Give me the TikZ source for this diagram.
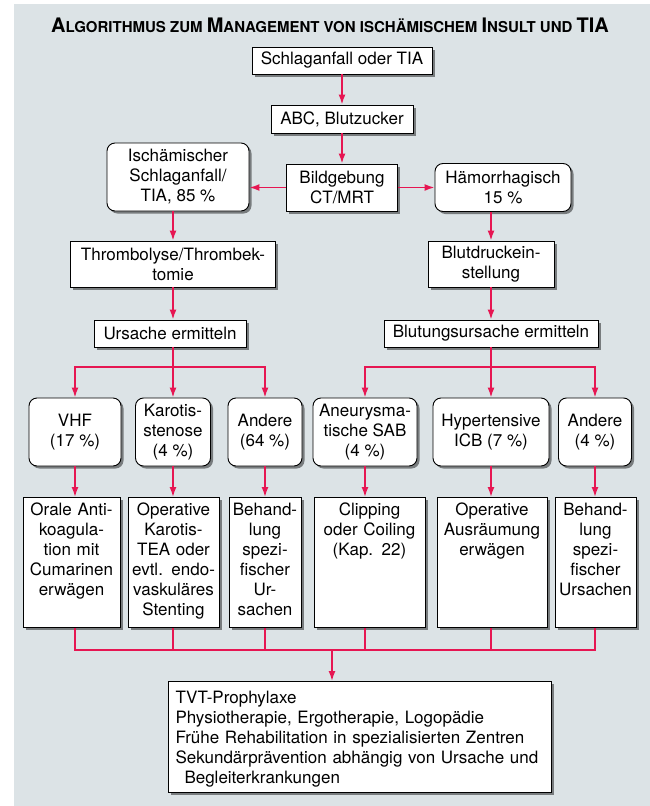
\documentclass[tikz,border=0pt]{standalone}
\usepackage{fontspec}
\setmainfont{TeX Gyre Heros}
\usetikzlibrary{arrows.meta,shadows}
\definecolor{panel}{RGB}{220,227,230}
\definecolor{arr}{RGB}{230,22,82}
\newcommand\bigc[1]{{\fontsize{20}{24}\selectfont #1}}
\begin{document}
\begin{tikzpicture}[x=1pt, y=-1pt, >={Latex[length=10pt,width=7pt]},
    every node/.style={font=\fontsize{17}{20}\selectfont, inner sep=2pt},
    box/.style={draw, line width=.9pt, fill=white, align=center,
      drop shadow={shadow xshift=2.5pt, shadow yshift=-2.5pt, fill=black, opacity=.45}},
    rbox/.style={box, rounded corners=8pt},
    lbox/.style={box, anchor=north, text width=#1, inner ysep=4pt, text height=14pt, text depth=108pt},
    con/.style={draw=arr, line width=1.6pt}]
\useasboundingbox (0,0) rectangle (650,806);
\fill[panel] (14,4) rectangle (650,806);
\node[font=\bfseries\fontsize{15}{18}\selectfont, anchor=base] (titel) at (330,32.5)
   {\bigc{A}LGORITHMUS ZUM \bigc{M}ANAGEMENT VON ISCHÄMISCHEM \bigc{I}NSULT UND \bigc{TIA}};
\node[box, minimum width=180, minimum height=27] (anfall) at (342,60.5) {Schlaganfall oder TIA};
\node[box, minimum width=142, minimum height=28] (abc) at (342,119) {ABC, Blutzucker};
\node[box, minimum width=111, minimum height=47] (bild) at (342,187.5) {Bildgebung\\CT/MRT};
\node[rbox, minimum width=142, minimum height=68] (isch) at (178,177) {Ischämischer\\Schlaganfall/\\TIA, 85~\%};
\node[rbox, minimum width=136, minimum height=48] (haem) at (503,187.5) {Hämorrhagisch\\15~\%};
\node[box, minimum width=205, minimum height=46] (thromb) at (173,264) {Thrombolyse/Thrombek-\\tomie};
\node[box, minimum width=126, minimum height=46] (blutdr) at (491,264) {Blutdruckein-\\stellung};
\node[box, minimum width=152, minimum height=27] (urs) at (170,333.5) {Ursache ermitteln};
\node[box, minimum width=214, minimum height=27] (blurs) at (491,333.5) {Blutungsursache ermitteln};

\node[rbox, minimum width=92, minimum height=68] (vhf) at (75,432) {VHF\\(17~\%)};
\node[rbox, minimum width=75, minimum height=68] (karotis) at (173,432) {Karotis-\\stenose\\(4~\%)};
\node[rbox, minimum width=74, minimum height=68] (andere1) at (265,432) {Andere\\(64~\%)};
\node[rbox, minimum width=104, minimum height=68] (aneur) at (365,432) {Aneurysma-\\tische SAB\\(4~\%)};
\node[rbox, minimum width=116, minimum height=68] (hyper) at (491,432) {Hypertensive\\ICB (7~\%)};
\node[rbox, minimum width=73, minimum height=68] (andere2) at (595,432) {Andere\\(4~\%)};

\node[lbox=93] (orale) at (71.5,497) {Orale Anti-\\koagula-\\tion mit\\Cumarinen\\erwägen};
\node[lbox=87] (opkar) at (173.5,497) {Operative\\Karotis-\\TEA oder\\evtl. endo-\\vaskuläres\\Stenting};
\node[lbox=68] (behand1) at (265,497) {Behand-\\lung\\spezi-\\fischer\\Ur-\\sachen};
\node[lbox=107] (clip) at (369.5,497) {Clipping\\oder Coiling\\(Kap. 22)};
\node[lbox=106] (opaus) at (492,497) {Operative\\Ausräumung\\erwägen};
\node[lbox=77] (behand2) at (595.5,497) {Behand-\\lung\\spezi-\\fischer\\Ursachen};

\node[box, anchor=north, align=left, text width=368, inner xsep=7.5pt, inner ysep=4pt, text height=18pt, text depth=85pt] (nach) at (359.5,681)
   {TVT-Prophylaxe\\Physiotherapie, Ergotherapie, Logopädie\\Frühe Rehabilitation in spezialisierten Zentren\\Sekundärprävention abhängig von Ursache und\\\hspace*{9pt}Begleiterkrankungen};

\coordinate (li) at (173,367);
\coordinate (re) at (491,367);
\coordinate (mg) at (332,650);

\draw[con,->] (anfall) -- (abc);
\draw[con,->] (abc) -- (bild);
\draw[con,->] (bild.west) -- (bild.west -| isch.east);
\draw[con,->] (bild) -- (haem);
\draw[con,->] (isch.south -| li) -- (thromb.north -| li);
\draw[con,->] (thromb.south -| li) -- (urs.north -| li);
\draw[con,->] (haem.south -| re) -- (blutdr.north -| re);
\draw[con,->] (blutdr) -- (blurs);

\draw[con,<->] (vhf.north) |- (li) -| (andere1.north);
\draw[con,->] (li |- urs.south) -- (li |- karotis.north);
\draw[con,<->] (aneur.north) |- (re) -| (andere2.north);
\draw[con,->] (re |- blurs.south) -- (re |- hyper.north);

\foreach \o/\u in {vhf/orale, karotis/opkar, andere1/behand1, aneur/clip, hyper/opaus, andere2/behand2}
   \draw[con,->] (\o.south) -- (\o.south |- \u.north);

\draw[con] (vhf |- orale.south) |- (mg) -| (andere2 |- behand2.south);
\foreach \o/\u in {karotis/opkar, andere1/behand1, aneur/clip, hyper/opaus}
   \draw[con] (\o |- \u.south) -- (\o |- mg);
\draw[con,->] (mg) -- (mg |- nach.north);
\end{tikzpicture}
\end{document}
